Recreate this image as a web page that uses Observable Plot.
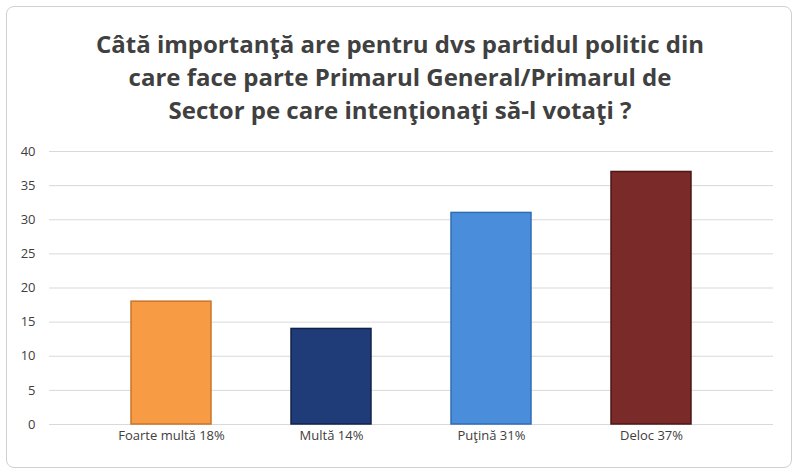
<!DOCTYPE html>
<html><head><meta charset="utf-8">
<script src="https://cdn.jsdelivr.net/npm/d3@7"></script>
<script src="https://cdn.jsdelivr.net/npm/@observablehq/plot@0.6"></script>
<style>
body{margin:0;background:#fff;font-family:Calibri,Carlito,"Liberation Sans",sans-serif;}
#wrap{position:absolute;left:6px;top:6px;width:786px;height:462px;border:1px solid #d0d0d0;border-radius:8px;box-sizing:border-box;}
#title{position:absolute;left:0;top:0;width:800px;height:130px;text-align:center;font:bold 24px "Open Sans",sans-serif;color:#404040;line-height:33px;padding-top:27px;box-sizing:border-box;}
#chart{position:absolute;left:0;top:130px;}
</style></head><body>
<div id="wrap"></div>
<div id="title">Câtă importanţă are pentru dvs partidul politic din<br>care face parte Primarul General/Primarul de<br>Sector pe care intenţionaţi să-l votaţi ?</div>
<div id="chart"></div>
<script>
const categories = ["Foarte multă 18%","Multă 14%","Puţină 31%","Deloc 37%"];
const values = [18,14,31,37];
const colors = ["#F79C45","#1F3C78","#4A8EDB","#7A2B29"];
const strokes = ["#c9742a","#10224a","#2f6db3","#4f1715"];
const data = categories.map((c,i)=>({c,v:values[i],fill:colors[i],stroke:strokes[i]}));
const plot = Plot.plot({
  width:800,height:345,marginTop:21,marginBottom:51,marginLeft:49,marginRight:27,
  style:{fontFamily:"'Open Sans',sans-serif",fontSize:"13px",color:"#404040"},
  x:{domain:categories,padding:0.5,label:null,tickSize:0,tickPadding:6},
  y:{domain:[0,40],ticks:[0,5,10,15,20,25,30,35,40],label:null,tickSize:0,tickPadding:14},
  marks:[
    Plot.gridY([0,5,10,15,20,25,30,35,40],{stroke:"#d9d9d9",strokeOpacity:1}),
    Plot.barY(data,{x:"c",y:"v",fill:"fill",stroke:"stroke",strokeWidth:1.5})
  ]
});
document.getElementById("chart").appendChild(plot);
</script></body></html>
